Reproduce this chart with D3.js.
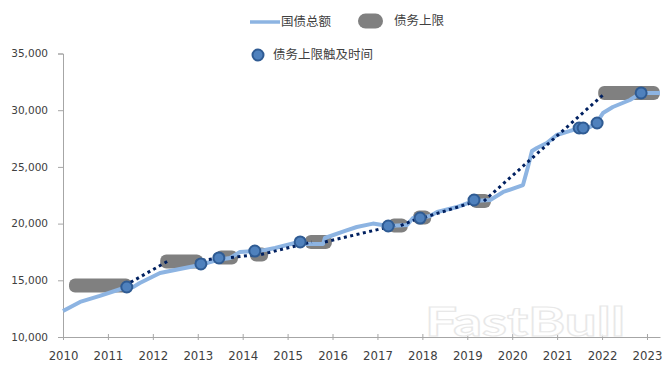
<!DOCTYPE html>
<html>
<head>
<meta charset="utf-8">
<script src="https://cdn.jsdelivr.net/npm/d3@7"></script>
<style>
  body { margin: 0; background: #fff; }
  svg { display: block; }
</style>
</head>
<body>
<div id="chart"></div>
<script>
// 国债总额 (years as decimals)
const debtDate = [2010.00, 2010.38, 2010.82, 2011.42, 2011.56, 2011.71, 2012.16, 2012.60, 2013.05, 2013.43,
                  2013.72, 2013.94, 2014.27, 2014.50, 2014.72, 2015.16, 2015.28, 2015.43, 2015.79, 2015.83,
                  2016.28, 2016.54, 2016.90, 2017.24, 2017.66, 2017.79, 2017.95, 2018.17, 2018.33, 2018.77,
                  2019.13, 2019.51, 2019.80, 2020.24, 2020.35, 2020.44, 2020.55, 2020.77, 2020.99, 2021.29,
                  2021.51, 2021.73, 2021.89, 2022.02, 2022.24, 2022.62, 2022.87, 2023.29];
const debtValue = [12290, 13090, 13620, 14410, 14400, 14760, 15640, 16000, 16350, 16790,
                   16970, 17500, 17580, 17670, 17850, 18290, 18380, 18200, 18200, 18730,
                   19350, 19700, 20000, 19790, 19880, 20490, 20490, 20670, 21020, 21460,
                   21990, 22080, 22790, 23400, 24990, 26400, 26670, 27110, 27810, 28170,
                   28430, 28520, 28960, 29750, 30280, 30900, 31520, 31520];

// 债务上限
const limitStart = [2010.29, 2012.32, 2013.54, 2014.32, 2015.54, 2017.39, 2017.95, 2019.22, 2022.07];
const limitEnd   = [2011.38, 2012.96, 2013.74, 2014.41, 2015.83, 2017.52, 2018.04, 2019.37, 2023.13];
const limitValue = [14540, 16660, 17010, 17280, 18380, 19830, 20540, 21990, 31520];

// 债务上限触及时间
const touchDate  = [2011.42, 2013.07, 2013.47, 2014.27, 2015.28, 2017.24, 2017.95, 2019.15, 2021.49, 2021.58, 2021.89, 2022.87];
const touchValue = [14410, 16440, 16970, 17580, 18380, 19790, 20490, 22080, 28430, 28430, 28870, 31520];

const yearTicks = d3.range(2010, 2024);
const valueTicks = [10000, 15000, 20000, 25000, 30000, 35000];

const width = 669, height = 378;
const margin = { top: 53.5, right: 9, bottom: 41, left: 63 };

const svg = d3.select("#chart").append("svg")
    .attr("width", width)
    .attr("height", height);

const x = d3.scaleLinear().domain([2010, 2023.29]).range([margin.left, width - margin.right]);
const y = d3.scaleLinear().domain([10000, 35000]).range([height - margin.bottom, margin.top]);

const axisColor = "#a6a6a6";
const textColor = "#404040";

// axe Y
const yAxis = svg.append("g")
    .attr("transform", "translate(" + margin.left + ",0)")
    .call(d3.axisLeft(y).tickValues(valueTicks).tickSize(5).tickPadding(10).tickFormat(d3.format(",")));
yAxis.select(".domain").attr("stroke", axisColor);
yAxis.selectAll(".tick line").attr("stroke", axisColor);
yAxis.selectAll("text")
    .attr("fill", textColor)
    .style("font-family", "'DejaVu Sans', sans-serif")
    .style("font-size", "10.5px");

// axe X
const xAxis = svg.append("g")
    .attr("transform", "translate(0," + y(10000) + ")")
    .call(d3.axisBottom(x).tickValues(yearTicks).tickSize(3).tickSizeOuter(0).tickPadding(11).tickFormat(d3.format("d")));
xAxis.select(".domain").attr("stroke", axisColor);
xAxis.selectAll(".tick line").attr("stroke", axisColor).attr("y1", -3);
xAxis.selectAll("text")
    .attr("fill", textColor)
    .style("font-family", "'Liberation Sans Narrow', 'DejaVu Sans Condensed', 'Arial Narrow', sans-serif")
    .style("font-size", "13px");

// pills du plafond
const capR = 7;
svg.append("g").selectAll("rect")
    .data(limitValue)
    .join("rect")
    .attr("x", (d, i) => x(limitStart[i]) - capR)
    .attr("width", (d, i) => x(limitEnd[i]) - x(limitStart[i]) + 2 * capR)
    .attr("y", d => y(d) - capR)
    .attr("height", 2 * capR)
    .attr("rx", 6)
    .attr("fill", "#808080");

// courbe de la dette
const debt = debtDate.map((d, i) => [d, debtValue[i]]);
svg.append("path")
    .datum(debt)
    .attr("fill", "none")
    .attr("stroke", "#8db4e2")
    .attr("stroke-width", 4)
    .attr("stroke-linejoin", "round")
    .attr("d", d3.line().x(d => x(d[0])).y(d => y(d[1])));

// pointillés entre deux plafonds
const gaps = d3.range(limitValue.length - 1).map(i => [
    [limitEnd[i], limitValue[i]],
    [limitStart[i + 1], limitValue[i + 1]]
]);
svg.append("g").selectAll("path")
    .data(gaps)
    .join("path")
    .attr("fill", "none")
    .attr("stroke", "#002060")
    .attr("stroke-width", 3)
    .attr("stroke-dasharray", "3,3.5")
    .attr("d", d3.line().x(d => x(d[0])).y(d => y(d[1])));

// points de contact
svg.append("g").selectAll("circle")
    .data(touchValue)
    .join("circle")
    .attr("cx", (d, i) => x(touchDate[i]))
    .attr("cy", d => y(d))
    .attr("r", 5.5)
    .attr("fill", "#4f81bd")
    .attr("stroke", "#2f5b93")
    .attr("stroke-width", 2);

// légende
const legendFont = "'Noto Sans CJK SC', sans-serif";
const legend = svg.append("g").style("font-family", legendFont).style("font-size", "12.5px").attr("fill", textColor);

legend.append("line")
    .attr("x1", 250).attr("x2", 280).attr("y1", 22).attr("y2", 22)
    .attr("stroke", "#8db4e2").attr("stroke-width", 3.5);
legend.append("text").attr("x", 281).attr("y", 22).attr("dy", "0.35em").text("国债总额");

legend.append("rect")
    .attr("x", 358).attr("y", 13.5).attr("width", 25).attr("height", 15).attr("rx", 7.5)
    .attr("fill", "#808080");
legend.append("text").attr("x", 394).attr("y", 21).attr("dy", "0.35em").text("债务上限");

legend.append("circle")
    .attr("cx", 258).attr("cy", 55).attr("r", 5.5)
    .attr("fill", "#4f81bd").attr("stroke", "#2f5b93").attr("stroke-width", 2);
legend.append("text").attr("x", 273).attr("y", 55).attr("dy", "0.35em").text("债务上限触及时间");

// filigrane
svg.append("text")
    .attr("x", 425).attr("y", 336)
    .attr("textLength", 200)
    .attr("lengthAdjust", "spacingAndGlyphs")
    .style("font-family", "Lato, 'Open Sans', sans-serif")
    .style("font-weight", "bold")
    .style("font-size", "40px")
    .attr("fill", "#ffffff")
    .attr("fill-opacity", 0.85)
    .attr("stroke", "#e8e8e8")
    .attr("stroke-width", 1.2)
    .text("FastBull");
</script>
</body>
</html>
